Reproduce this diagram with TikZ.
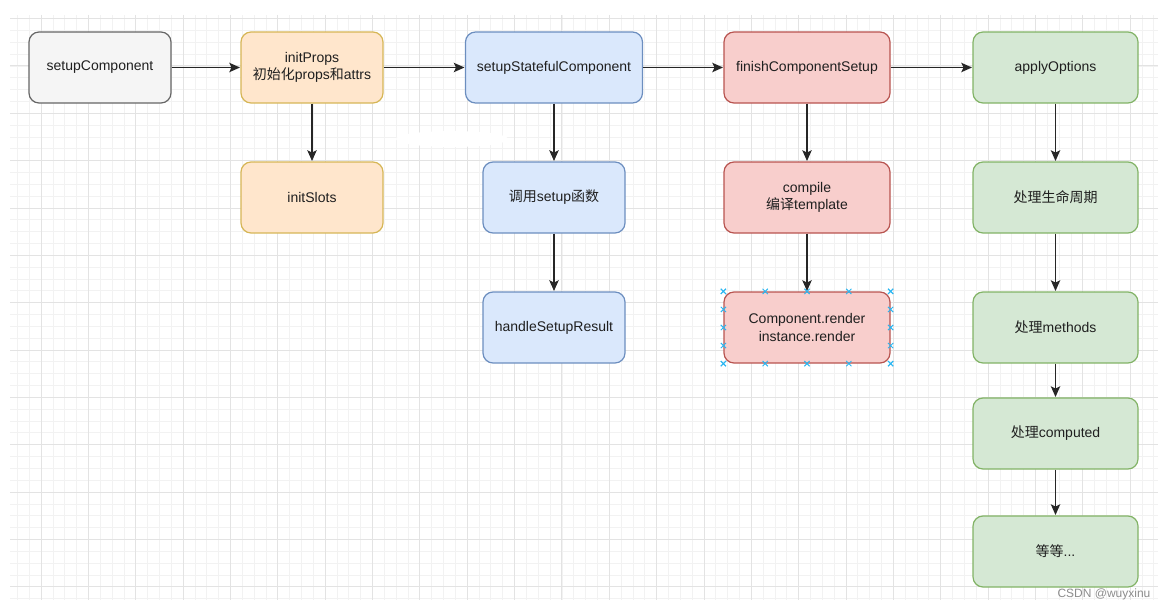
\documentclass[tikz,border=0pt]{standalone}
\usepackage{fontspec}
\setmainfont{Liberation Sans}
\newfontfamily\cjk{Noto Sans CJK SC}
\usepackage{xcolor}
\usetikzlibrary{arrows.meta,positioning,calc}

\definecolor{grayfill}{HTML}{F5F5F5}
\definecolor{graydraw}{HTML}{666666}
\definecolor{orangefill}{HTML}{FFE6CC}
\definecolor{orangedraw}{HTML}{D6B656}
\definecolor{bluefill}{HTML}{DAE8FC}
\definecolor{bluedraw}{HTML}{6C8EBF}
\definecolor{redfill}{HTML}{F8CECC}
\definecolor{reddraw}{HTML}{B85450}
\definecolor{greenfill}{HTML}{D5E8D4}
\definecolor{greendraw}{HTML}{82B366}
\definecolor{handle}{HTML}{29B6F2}

\begin{document}
\begin{tikzpicture}[x=0.75pt,y=-0.75pt,>=Latex,line join=round,
    box/.style={draw,rounded corners=7.5pt,minimum width=106.5pt,minimum height=53.25pt,
      align=center,line width=0.9pt,text=black!88,font=\fontsize{10.5}{12.8}\selectfont},
    graybox/.style={box,fill=grayfill,draw=graydraw},
    orangebox/.style={box,fill=orangefill,draw=orangedraw},
    bluebox/.style={box,fill=bluefill,draw=bluedraw},
    redbox/.style={box,fill=redfill,draw=reddraw},
    greenbox/.style={box,fill=greenfill,draw=greendraw},
    flow/.style={->,line width=0.95pt,black!85,shorten >=0.3pt,
      >={Stealth[length=8pt,width=7pt,inset=1.6pt]}},
    minorline/.style={black!5,line width=0.5pt},
    majorline/.style={black!11,line width=0.6pt},
    grip/.style={handle,line width=0.7pt}]
    \useasboundingbox (0,0) rectangle (1167,610);
    % ============ Background grid ============
    \foreach \k in {2,...,98}
      \draw[minorline] ({-6.35+\k*11.8375},15) -- ({-6.35+\k*11.8375},600);
    \foreach \k in {0,...,49}
      \draw[minorline] (10,{18.5+\k*11.8375}) -- (1158,{18.5+\k*11.8375});
    \foreach \k in {1,...,24}
      \draw[majorline] ({-6.35+\k*47.35},15) -- ({-6.35+\k*47.35},600);
    \foreach \k in {0,...,12}
      \draw[majorline] (10,{18.5+\k*47.35}) -- (1158,{18.5+\k*47.35});
    \fill[white] (452,139) ellipse (56 and 8);
    % ============ Row of main steps ============
    \node[graybox] (setupComp) at (100,67.5) {setupComponent};
    \node[orangebox] (initProps) at (312,67.5) {initProps\\{\cjk 初始化}props{\cjk 和}attrs};
    \node[bluebox,minimum width=132.75pt] (setupStateful) at (554,67.5) {setupStatefulComponent};
    \node[redbox,minimum width=124.5pt] (finishSetup) at (807,67.5) {finishComponentSetup};
    \node[greenbox,minimum width=123.75pt] (applyOpts) at (1055.5,67.5) {applyOptions};
    % ============ Sub steps ============
    \node[orangebox] (initSlots) at (312,197.5) {initSlots};
    \node[bluebox] (callSetup) at (554,197.5) {{\cjk 调用}setup{\cjk 函数}};
    \node[bluebox] (handleResult) at (554,327.5) {handleSetupResult};
    \node[redbox,minimum width=124.5pt] (compileTpl) at (807,197.5) {compile\\{\cjk 编译}template};
    \node[redbox,minimum width=124.5pt] (renderFn) at (807,327.5) {Component.render\\instance.render};
    \node[greenbox,minimum width=123.75pt] (lifecycle) at (1055.5,197.5) {{\cjk 处理生命周期}};
    \node[greenbox,minimum width=123.75pt] (methods) at (1055.5,327.5) {{\cjk 处理}methods};
    \node[greenbox,minimum width=123.75pt] (computed) at (1055.5,433.5) {{\cjk 处理}computed};
    \node[greenbox,minimum width=123.75pt] (etc) at (1055.5,551.5) {{\cjk 等等}...};
    % ============ Connectors ============
    \draw[flow] (setupComp) -- (initProps);
    \draw[flow] (initProps) -- (setupStateful);
    \draw[flow] (setupStateful) -- (finishSetup);
    \draw[flow] (finishSetup) -- (applyOpts);
    \draw[flow] (initProps) -- (initSlots);
    \draw[flow] (setupStateful) -- (callSetup);
    \draw[flow] (callSetup) -- (handleResult);
    \draw[flow] (finishSetup) -- (compileTpl);
    \draw[flow] (compileTpl) -- (renderFn);
    \draw[flow] (applyOpts) -- (lifecycle);
    \draw[flow] (lifecycle) -- (methods);
    \draw[flow] (methods) -- (computed);
    \draw[flow] (computed) -- (etc);
    % ============ Selection handles ============
    \foreach \hx in {0,0.25,0.5,0.75,1} {
      \draw[grip] ($(renderFn.north west)!\hx!(renderFn.north east)$) +(-2.6,-2.6) -- +(2.6,2.6) +(-2.6,2.6) -- +(2.6,-2.6);
      \draw[grip] ($(renderFn.south west)!\hx!(renderFn.south east)$) +(-2.6,-2.6) -- +(2.6,2.6) +(-2.6,2.6) -- +(2.6,-2.6);
      \draw[grip] ($(renderFn.north west)!\hx!(renderFn.south west)$) +(-2.6,-2.6) -- +(2.6,2.6) +(-2.6,2.6) -- +(2.6,-2.6);
      \draw[grip] ($(renderFn.north east)!\hx!(renderFn.south east)$) +(-2.6,-2.6) -- +(2.6,2.6) +(-2.6,2.6) -- +(2.6,-2.6);
    }
    % ============ Watermark ============
    \node[anchor=east,text=black!45,font=\fontsize{9}{10}\selectfont,inner sep=1pt] (mark) at (1152,594) {CSDN @wuyxinu};
\end{tikzpicture}
\end{document}
